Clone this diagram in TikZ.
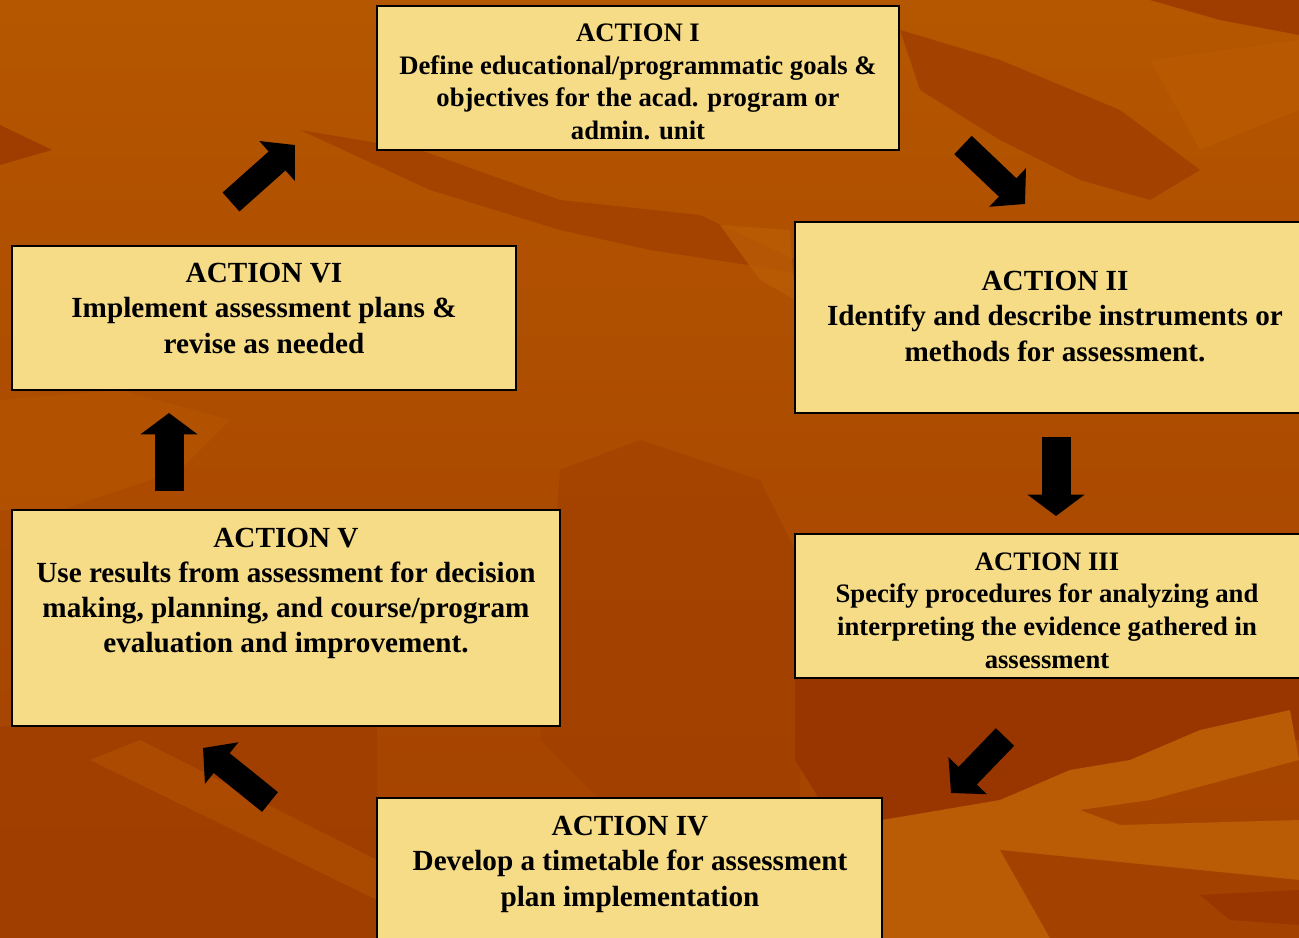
\documentclass[tikz,border=0pt]{standalone}
\usepackage{fontspec}
\setmainfont{Liberation Serif}
\usetikzlibrary{arrows.meta,fit}
\definecolor{bgtop}{HTML}{B55600}
\definecolor{bgbottom}{HTML}{A34100}
\definecolor{bglight}{HTML}{B85800}
\definecolor{bglighter}{HTML}{BA5C05}
\definecolor{bgdark}{HTML}{9F3D00}
\definecolor{bgdarker}{HTML}{993600}
\definecolor{boxfill}{HTML}{F6DC87}
\tikzset{
  box/.style={draw=black, line width=1.7pt, fill=boxfill, inner sep=0pt},
  txtA/.style={align=center, inner sep=0pt, anchor=base,
    font=\bfseries\fontsize{20}{24.4}\selectfont},
  txtB/.style={align=center, inner sep=0pt, anchor=base,
    font=\bfseries\fontsize{21.9}{26.3}\selectfont},
  blkstraight/.style={draw=black, line width=21.75pt,
    -{Triangle[length=16pt,width=42pt]}},
  blkdiag/.style={draw=black, line width=19pt,
    -{Triangle[length=18pt,width=39pt]}},
}
\begin{document}
\begin{tikzpicture}[x=0.75pt,y=-0.75pt]
\useasboundingbox (0,0) rectangle (1299,938);
% background
\shade[top color=bgtop, bottom color=bgbottom] (0,0) rectangle (1299,938);
\begin{scope}
\clip (0,0) rectangle (1299,938);
\fill[bgdark] (0,125) -- (52,150) -- (0,165) -- cycle;
\fill[bgdark, opacity=0.7] (300,130) -- (420,150) -- (560,200) -- (700,215) -- (880,300) -- (780,270) -- (650,250) -- (560,230) -- (430,190) -- cycle;
\fill[bglighter, opacity=0.8] (720,225) -- (790,230) -- (795,300) -- (760,280) -- cycle;
\fill[bgdark, opacity=0.8] (900,30) -- (1000,60) -- (1120,110) -- (1200,170) -- (1150,200) -- (1080,180) -- (1000,140) -- (920,90) -- cycle;
\fill[bglight] (1150,60) -- (1299,40) -- (1299,110) -- (1200,150) -- cycle;
\fill[bgdark] (1150,0) -- (1299,0) -- (1299,35) -- (1220,20) -- cycle;
\fill[bgdark, opacity=0.5] (560,470) -- (640,440) -- (760,480) -- (800,560) -- (800,800) -- (600,800) -- (540,740) -- cycle;
\fill[bgdark, opacity=0.7] (0,726) -- (377,726) -- (377,938) -- (0,938) -- cycle;
\fill[bglight, opacity=0.5] (0,400) -- (120,390) -- (230,420) -- (180,470) -- (60,510) -- (0,510) -- cycle;
\fill[bglight, opacity=0.45] (90,760) -- (140,740) -- (377,860) -- (377,900) -- cycle;
\fill[bgdarker] (795,678) -- (1299,678) -- (1299,740) -- (1100,780) -- (960,810) -- (882,820) -- (820,800) -- (795,760) -- cycle;
\fill[bglighter] (882,820) -- (1000,800) -- (1070,770) -- (1130,760) -- (1200,730) -- (1290,710) -- (1299,760) -- (1150,800) -- (1080,810) -- (1120,825) -- (1299,820) -- (1299,938) -- (882,938) -- cycle;
\fill[bgbottom] (1000,850) -- (1299,880) -- (1299,938) -- (1050,938) -- cycle;
\fill[bgdarker] (1200,895) -- (1299,890) -- (1299,925) -- (1230,920) -- cycle;
\end{scope}
% boxes
\node[box, fit={(377,6) (899,150)}] (b1) {};
\node[box, fit={(795,222) (1310,413)}] (b2) {};
\node[box, fit={(795,534) (1310,678)}] (b3) {};
\node[box, fit={(377,798) (882,950)}] (b4) {};
\node[box, fit={(12,510) (560,726)}] (b5) {};
\node[box, fit={(12,246) (516,390)}] (b6) {};
% texts
\node[txtA] (t1) at (638,139.5) {ACTION I\\Define educational/programmatic goals \&\\objectives for the acad. program or\\admin. unit};
\node[txtB] (t2) at (1055,361) {ACTION II\\Identify and describe instruments or\\methods for assessment.};
\node[txtA] (t3) at (1047,668) {ACTION III\\Specify procedures for analyzing and\\interpreting the evidence gathered in\\assessment};
\node[txtB] (t4) at (630,906) {ACTION IV\\Develop a timetable for assessment\\plan implementation};
\node[txtB] (t5) at (286,652.6) {ACTION V\\Use results from assessment for decision\\making, planning, and course/program\\evaluation and improvement.};
\node[txtB] (t6) at (264,353) {ACTION VI\\Implement assessment plans \&\\revise as needed};
% arrows
\coordinate (a1s) at (963,145);  \coordinate (a1e) at (1025,204);
\coordinate (a2s) at (1056,437); \coordinate (a2e) at (1056,516);
\coordinate (a3s) at (1005,737); \coordinate (a3e) at (951,793);
\coordinate (a4s) at (270,802);  \coordinate (a4e) at (203,748);
\coordinate (a5s) at (169,491);  \coordinate (a5e) at (169,413);
\coordinate (a6s) at (231,202);  \coordinate (a6e) at (295,145);
\draw[blkdiag] (a1s) -- (a1e);
\draw[blkstraight] (a2s) -- (a2e);
\draw[blkdiag] (a3s) -- (a3e);
\draw[blkdiag] (a4s) -- (a4e);
\draw[blkstraight] (a5s) -- (a5e);
\draw[blkdiag] (a6s) -- (a6e);
\end{tikzpicture}
\end{document}
